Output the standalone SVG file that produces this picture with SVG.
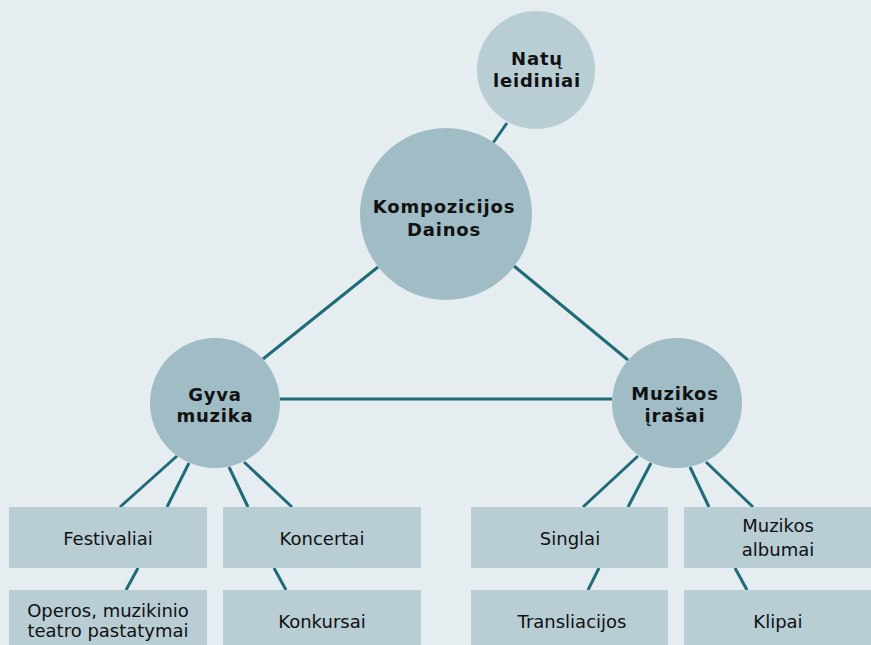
<svg xmlns="http://www.w3.org/2000/svg" width="871" height="645" viewBox="0 0 871 645">
<style>
.bg{fill:#e5edf1}
.cb{fill:#a0bcc5}
.cs{fill:#b8cdd4}
.bx{fill:#b8cdd4}
.ln{stroke:#1f6b78;stroke-width:3;fill:none}
.ct{font-family:"DejaVu Sans",sans-serif;font-weight:bold;font-size:18px;letter-spacing:0.8px;fill:#111;text-anchor:middle}
.bt{font-family:"DejaVu Sans",sans-serif;font-size:18px;fill:#111;text-anchor:middle}
</style>
<rect class="bg" x="0" y="0" width="871" height="645"/>
<g id="connectors">
<line class="ln" x1="507" y1="123" x2="493" y2="143"/>
<line class="ln" x1="378" y1="267" x2="263" y2="359"/>
<line class="ln" x1="514" y1="266" x2="628" y2="360"/>
<line class="ln" x1="280" y1="399" x2="612" y2="399"/>
<line class="ln" x1="177" y1="456" x2="120" y2="507"/>
<line class="ln" x1="189" y1="463" x2="167" y2="507"/>
<line class="ln" x1="229" y1="467" x2="248" y2="507"/>
<line class="ln" x1="244" y1="462" x2="292" y2="507"/>
<line class="ln" x1="138" y1="568" x2="126" y2="590"/>
<line class="ln" x1="274" y1="568" x2="286" y2="590"/>
<line class="ln" x1="638" y1="456" x2="583" y2="507"/>
<line class="ln" x1="651" y1="463" x2="628" y2="507"/>
<line class="ln" x1="690" y1="467" x2="709" y2="507"/>
<line class="ln" x1="706" y1="462" x2="753" y2="507"/>
<line class="ln" x1="599" y1="568" x2="588" y2="590"/>
<line class="ln" x1="735" y1="568" x2="747" y2="590"/>
</g>
<g id="natu">
<circle class="cs" cx="536" cy="70" r="59"/>
<text class="ct" x="537" y="65">Natų</text>
<text class="ct" x="537" y="87">leidiniai</text>
</g>
<g id="kompozicijos">
<circle class="cb" cx="446" cy="214" r="86"/>
<text class="ct" x="444" y="213">Kompozicijos</text>
<text class="ct" x="444" y="236">Dainos</text>
</g>
<g id="gyva">
<circle class="cb" cx="215" cy="403" r="65"/>
<text class="ct" x="215" y="401">Gyva</text>
<text class="ct" x="215" y="422">muzika</text>
</g>
<g id="irasai">
<circle class="cb" cx="677" cy="403" r="65"/>
<text class="ct" x="675" y="400">Muzikos</text>
<text class="ct" x="675" y="422">įrašai</text>
</g>
<g id="festivaliai">
<rect class="bx" x="9" y="507" width="198" height="61"/>
<text class="bt" x="108" y="545">Festivaliai</text>
</g>
<g id="koncertai">
<rect class="bx" x="223" y="507" width="198" height="61"/>
<text class="bt" x="322" y="545">Koncertai</text>
</g>
<g id="operos">
<rect class="bx" x="9" y="590" width="198" height="61"/>
<text class="bt" x="108" y="617">Operos, muzikinio</text>
<text class="bt" x="108" y="637">teatro pastatymai</text>
</g>
<g id="konkursai">
<rect class="bx" x="223" y="590" width="198" height="61"/>
<text class="bt" x="322" y="628">Konkursai</text>
</g>
<g id="singlai">
<rect class="bx" x="471" y="507" width="197" height="61"/>
<text class="bt" x="570" y="545">Singlai</text>
</g>
<g id="albumai">
<rect class="bx" x="684" y="507" width="187" height="61"/>
<text class="bt" x="778" y="532">Muzikos</text>
<text class="bt" x="778" y="556">albumai</text>
</g>
<g id="transliacijos">
<rect class="bx" x="471" y="590" width="197" height="61"/>
<text class="bt" x="572" y="628">Transliacijos</text>
</g>
<g id="klipai">
<rect class="bx" x="684" y="590" width="187" height="61"/>
<text class="bt" x="778" y="628">Klipai</text>
</g>
</svg>
